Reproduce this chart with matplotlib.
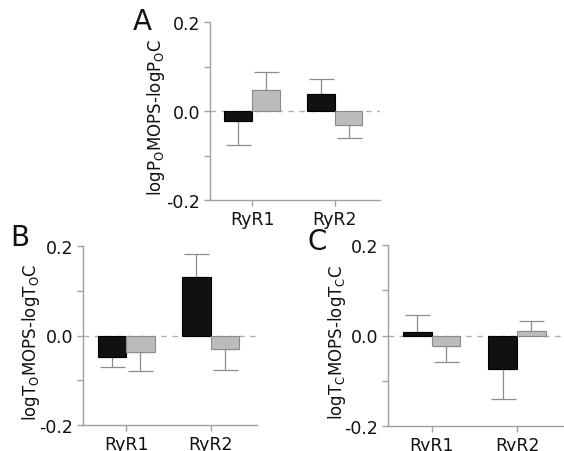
import matplotlib
matplotlib.use("Agg")
import matplotlib.pyplot as plt
import numpy as np

plt.rcParams['font.family'] = ['DejaVu Sans']
plt.rcParams['mathtext.fontset'] = 'dejavusans'

categories = ["RyR1", "RyR2"]

# Panel A: logPo MOPS - logPo C
a_black = [-0.022, 0.038]
a_black_err = [0.054, 0.035]
a_grey = [0.048, -0.031]
a_grey_err = [0.040, 0.030]

# Panel B: logTo MOPS - logTo C
b_black = [-0.048, 0.130]
b_black_err = [0.023, 0.052]
b_grey = [-0.037, -0.030]
b_grey_err = [0.042, 0.046]

# Panel C: logTc MOPS - logTc C
c_black = [0.0075, -0.075]
c_black_err = [0.038, 0.065]
c_grey = [-0.024, 0.011]
c_grey_err = [0.035, 0.020]

ylabels = [r'logP$_\mathregular{O}$MOPS-logP$_\mathregular{O}$C',
           r'logT$_\mathregular{O}$MOPS-logT$_\mathregular{O}$C',
           r'logT$_\mathregular{C}$MOPS-logT$_\mathregular{C}$C']
panel_letters = ["A", "B", "C"]
ytick_vals = [-0.2, -0.1, 0.0, 0.1, 0.2]
ytick_labels = ["-0.2", "", "0.0", "", "0.2"]

fig = plt.figure(figsize=(5.64, 4.52), dpi=100)
fig.patch.set_facecolor('white')

rects = [
    [210/564, 1-201/452, 170/564, 178/452],
    [83/564, 1-426/452, 174/564, 179/452],
    [388/564, 1-427/452, 176/564, 181/452],
]
label_x = [-0.255, -0.235, -0.23]
letter_pos = [(142/564, 1-22/452), (20/564, 1-238/452), (317/564, 1-242/452)]

datasets = [
    (a_black, a_black_err, a_grey, a_grey_err),
    (b_black, b_black_err, b_grey, b_grey_err),
    (c_black, c_black_err, c_grey, c_grey_err),
]

spine_col = '#a0a0a0'
err_col = '#8c8c8c'
w = 0.337
x = np.arange(len(categories))

def one_sided(vals, errs):
    lo = [e if v < 0 else 0 for v, e in zip(vals, errs)]
    hi = [e if v >= 0 else 0 for v, e in zip(vals, errs)]
    return [lo, hi]

for i, (rect, (bk, bke, gr, gre)) in enumerate(zip(rects, datasets)):
    ax = fig.add_axes(rect)
    ax.set_facecolor('none')
    ax.axhline(0, color='#b0b0b0', lw=1.0, ls=(0, (4, 4)), zorder=1)
    ax.bar(x - w/2, bk, w, color='#111111', edgecolor='#000000', lw=0.8, zorder=3,
           yerr=one_sided(bk, bke), error_kw=dict(ecolor=err_col, elinewidth=0.9,
                                                 capsize=9, capthick=0.9, zorder=2))
    ax.bar(x + w/2, gr, w, color='#bcbcbc', edgecolor='#8a8a8a', lw=0.8, zorder=3,
           yerr=one_sided(gr, gre), error_kw=dict(ecolor=err_col, elinewidth=0.9,
                                                 capsize=9, capthick=0.9, zorder=2))
    ax.set_ylim(-0.2, 0.2)
    ax.set_xlim(-0.51, 1.55)
    ax.set_yticks(ytick_vals)
    ax.set_yticklabels(ytick_labels)
    ax.set_xticks(x)
    ax.set_xticklabels(categories)
    for s in ['top', 'right']:
        ax.spines[s].set_visible(False)
    for s in ['left', 'bottom']:
        ax.spines[s].set_color(spine_col)
        ax.spines[s].set_linewidth(1.0)
    ax.tick_params(axis='both', colors=spine_col, length=4, width=1.0, labelsize=12.5,
                   labelcolor='#111111', pad=3)
    ax.set_ylabel(ylabels[i], fontsize=12, color='#111111')
    ax.yaxis.set_label_coords(label_x[i], 0.47)
    fig.text(letter_pos[i][0], letter_pos[i][1], panel_letters[i], fontsize=20,
             ha='center', va='center', color='#111111')

fig.savefig("out.png", dpi=100, facecolor='white')
